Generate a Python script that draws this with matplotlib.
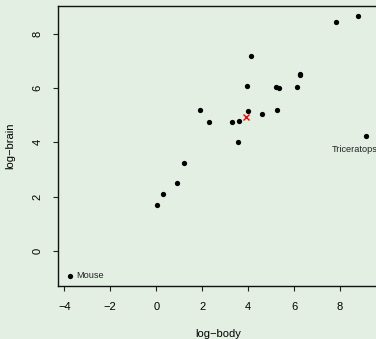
import numpy as np
import matplotlib
matplotlib.use("Agg")
import matplotlib.pyplot as plt

plt.rcParams['font.family'] = ['Liberation Sans', 'DejaVu Sans']

# Animals: log body weight (kg) and log brain weight (g)
animals = ["Mountain beaver", "Cow", "Grey wolf", "Goat", "Guinea pig",
           "Asian elephant", "Donkey", "Horse", "Potar monkey", "Cat",
           "Giraffe", "Gorilla", "Human", "African elephant", "Triceratops",
           "Rhesus monkey", "Kangaroo", "Mouse", "Rabbit", "Sheep",
           "Jaguar", "Chimpanzee", "Pig"]
log_body = [0.300, 6.142, 3.593, 3.320, 0.039,
            7.843, 5.232, 6.256, 2.303, 1.194,
            6.271, 5.333, 4.127, 8.803, 9.148,
            1.917, 3.555, -3.772, 0.916, 4.016,
            4.605, 3.954, 5.257]
log_brain = [2.092, 6.048, 4.783, 4.745, 1.705,
             8.434, 6.038, 6.485, 4.745, 3.243,
             6.522, 6.006, 7.185, 8.650, 4.248,
             5.187, 4.025, -0.916, 2.493, 5.165,
             5.056, 6.087, 5.193]

x_ticks = [-4, -2, 0, 2, 4, 6, 8]
y_ticks = [0, 2, 4, 6, 8]

bg = "#e4efe3"
W, H = 376, 339
fig = plt.figure(figsize=(W / 100, H / 100), dpi=100, facecolor=bg)
ax = fig.add_axes([57.7 / W, 53 / H, (378.2 - 57.7) / W, (286 - 6) / H])
ax.set_facecolor(bg)

x = np.array(log_body)
y = np.array(log_brain)
ax.plot(x, y, 'o', color='black', markersize=3.8, markeredgewidth=0)
ax.plot([x.mean()], [y.mean()], 'x', color='red', markersize=5, markeredgewidth=1.0)

i_mouse = animals.index("Mouse")
ax.text(x[i_mouse] + 0.27, y[i_mouse], "Mouse", fontsize=6.6,
        ha='left', va='center', color='#222222')
i_tri = animals.index("Triceratops")
ax.text(x[i_tri] - 0.5, y[i_tri] - 0.5, "Triceratops", fontsize=6.6,
        ha='center', va='center', color='#222222')

ax.set_xlim(-4.289, 9.665)
ax.set_ylim(-1.299, 9.033)
ax.set_xticks(x_ticks)
ax.set_yticks(y_ticks)
ax.tick_params(axis='both', length=3.6, width=0.8, labelsize=8, color='#222222')
ax.tick_params(axis='x', pad=8.2)
ax.tick_params(axis='y', pad=7.5)
for lbl in ax.get_yticklabels():
    lbl.set_rotation(90)
    lbl.set_va('center')

for side in ['left', 'bottom', 'top', 'right']:
    ax.spines[side].set_linewidth(1.0)
    ax.spines[side].set_color('#111111')

ax.set_xlabel("log\u2212body", fontsize=8, labelpad=12)
ax.set_ylabel("log\u2212brain", fontsize=8, labelpad=12)

fig.savefig("out.png", dpi=100, facecolor=bg)
